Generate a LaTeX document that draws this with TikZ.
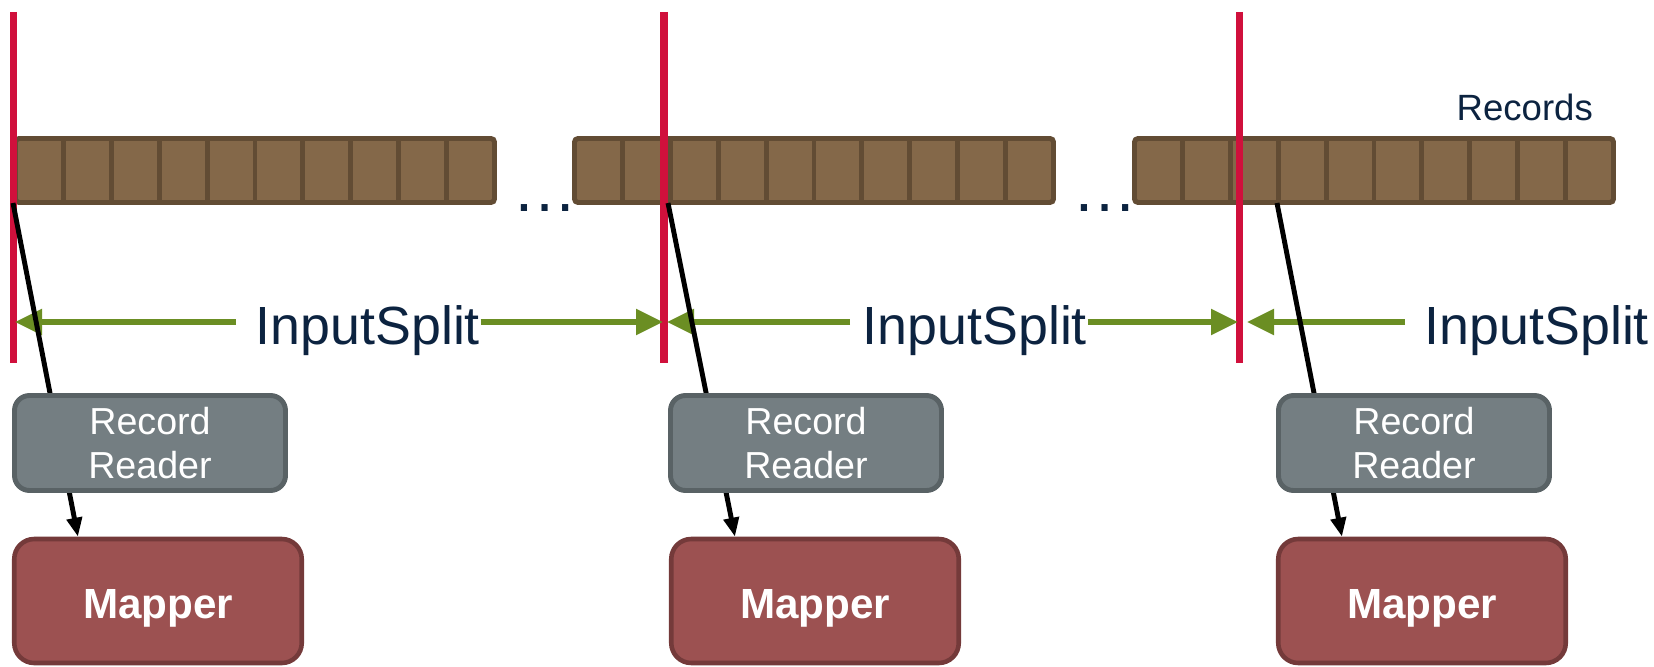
\documentclass[tikz,border=0pt]{standalone}
\usepackage{fontspec}
\setmainfont{Liberation Sans}
\usetikzlibrary{arrows.meta,calc}
\definecolor{recbrown}{RGB}{132,104,73}
\definecolor{recedge}{RGB}{98,76,52}
\definecolor{cutred}{RGB}{208,16,60}
\definecolor{splitgreen}{RGB}{107,142,35}
\definecolor{labelblue}{RGB}{12,35,64}
\definecolor{readergrey}{RGB}{116,126,130}
\definecolor{readeredge}{RGB}{89,98,101}
\definecolor{mapperred}{RGB}{156,81,81}
\definecolor{mapperedge}{RGB}{116,58,58}

\begin{document}
\begin{tikzpicture}
        \tikzstyle{bar} = [fill=recbrown, draw=recedge, line width=1.4pt, rounded corners=1pt]
        \tikzstyle{divider} = [draw=recedge, line width=1.4pt]
        \tikzstyle{cut} = [draw=cutred, line width=2pt]
        \tikzstyle{span} = [draw=splitgreen, line width=1.5pt, -{Triangle[length=0.27cm,width=0.25cm]}]
        \tikzstyle{splitlabel} = [text=labelblue, inner sep=0pt, anchor=base west, font=\fontsize{15.3}{18}\selectfont]
        \tikzstyle{gap} = [text=labelblue, inner sep=0pt, anchor=base, font=\fontsize{18.5}{20}\selectfont]
        \tikzstyle{reader} = [rectangle, rounded corners=0.15cm, fill=readergrey, draw=readeredge, line width=1.4pt, text=white, align=center, minimum width=2.71cm, minimum height=0.95cm, font=\fontsize{10.7}{12.5}\selectfont]
        \tikzstyle{mapper} = [rectangle, rounded corners=0.2cm, fill=mapperred, draw=mapperedge, line width=1.3pt, text=white, text height=10.2pt, text depth=0pt, minimum width=2.875cm, minimum height=1.24cm, font=\bfseries\fontsize{12}{14}\selectfont]
        \tikzstyle{flow} = [draw=black, line width=1.4pt, -{Triangle[length=0.19cm,width=0.15cm]}]
        \useasboundingbox (0,0) rectangle (16.54,-6.67);

        % records
        \foreach \x in {0.155, 5.745, 11.345} {
            \draw[bar] (\x,-1.385) rectangle ++(4.79,-0.64);
            \foreach \i in {1,...,9}
                \draw[divider] (\x+\i*0.479,-1.385) -- ++(0,-0.64);
        }
        \node[gap] (gap1) at (5.45,-2.11) {…};
        \node[gap] (gap2) at (11.05,-2.11) {…};
        \node[text=labelblue, inner sep=0pt, anchor=base west, font=\fontsize{10.4}{12}\selectfont] (records) at (14.56,-1.21) {Records};

        % split boundaries
        \coordinate (top1) at (0.137,-0.12);  \coordinate (bot1) at (0.137,-3.63);
        \coordinate (top2) at (6.64,-0.12);   \coordinate (bot2) at (6.64,-3.63);
        \coordinate (top3) at (12.39,-0.12);  \coordinate (bot3) at (12.39,-3.63);
        \draw[cut] (top1) -- (bot1);
        \draw[cut] (top2) -- (bot2);
        \draw[cut] (top3) -- (bot3);

        \node[splitlabel] (split1) at (2.55,-3.45) {InputSplit};
        \node[splitlabel] (split2) at (8.62,-3.45) {InputSplit};
        \node[splitlabel] (split3) at (14.24,-3.45) {InputSplit};

        \coordinate (tip1) at (0.15,-3.22);
        \coordinate (tip2a) at (6.63,-3.22);
        \coordinate (tip2b) at (6.67,-3.22);
        \coordinate (tip3a) at (12.38,-3.22);
        \coordinate (tip3b) at (12.47,-3.22);
        \draw[span] ($(split1.west |- tip1)+(-0.19,0)$) -- (tip1);
        \draw[span] (split1.east |- tip2a) -- (tip2a);
        \draw[span] ($(split2.west |- tip2b)+(-0.12,0)$) -- (tip2b);
        \draw[span] (split2.east |- tip3a) -- (tip3a);
        \draw[span] ($(split3.west |- tip3b)+(-0.19,0)$) -- (tip3b);

        % mappers
        \node[mapper] (map1) at (1.58,-6.01) {Mapper};
        \node[mapper] (map2) at (8.15,-6.01) {Mapper};
        \node[mapper] (map3) at (14.22,-6.01) {Mapper};

        \coordinate (src1) at (0.13,-2.03);
        \coordinate (src2) at (6.68,-2.03);
        \coordinate (src3) at (12.77,-2.03);
        \path   (src1) edge[flow] ([xshift=0.66cm]map1.north west)
                (src2) edge[flow] ([xshift=0.66cm]map2.north west)
                (src3) edge[flow] ([xshift=0.66cm]map3.north west);

        \node[reader] (rr1) at (1.50,-4.43) {Record\\Reader};
        \node[reader] (rr2) at (8.06,-4.43) {Record\\Reader};
        \node[reader] (rr3) at (14.14,-4.43) {Record\\Reader};
\end{tikzpicture}
\end{document}
